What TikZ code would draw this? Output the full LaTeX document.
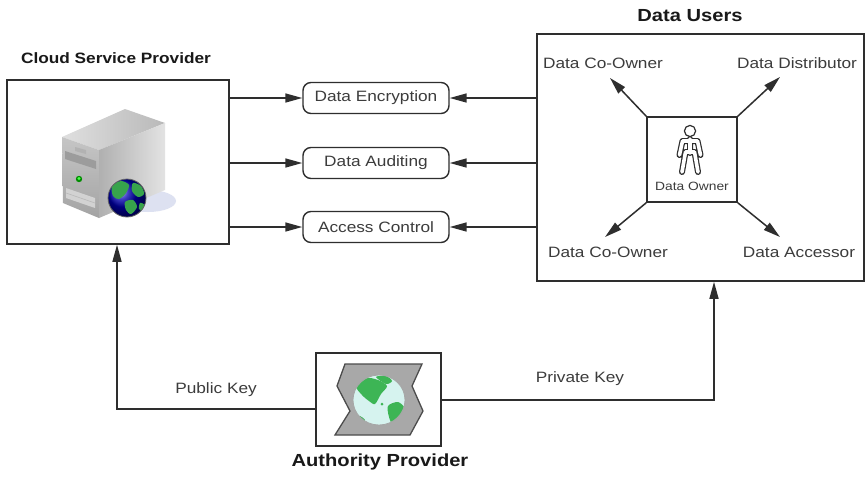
\documentclass[tikz,border=0pt]{standalone}
\usepackage{fontspec}
\setmainfont{Liberation Sans}[FakeStretch=1.15]
\usetikzlibrary{arrows.meta}

\definecolor{ink}{HTML}{2E2E2E}
\definecolor{txt}{HTML}{3C3C3C}
\definecolor{land}{HTML}{3DB555}
\definecolor{sea}{HTML}{D6F3EF}
\definecolor{shadowblue}{HTML}{DDE1F1}
\definecolor{plate}{HTML}{A8A8A8}

\begin{document}
\begin{tikzpicture}[x=1pt,y=-1pt,
  conn/.style={draw=ink, line width=1.5pt},
  arr/.style={conn, -{Triangle[length=17pt,width=9pt]}},
  panel/.style={draw=ink, line width=1.6pt, inner sep=0pt},
  task/.style={draw=ink, line width=1.4pt, rounded corners=8pt,
    minimum width=146pt, minimum height=31pt, inner sep=0pt,
    font=\fontsize{15}{18}\selectfont, text=txt},
  lbl/.style={font=\fontsize{15}{18}\selectfont, text=txt, inner sep=0pt},
  small/.style={font=\fontsize{12}{14}\selectfont, text=txt, inner sep=0pt},
  title/.style={font=\bfseries\fontsize{17.5}{20}\selectfont, text=black!90, inner sep=0pt, anchor=base}]

% canvas
\fill[white] (0,0) rectangle (866,477);
\useasboundingbox (0,0) rectangle (866,477);

% ---------- main frames ----------
\node[panel, minimum width=222pt, minimum height=164pt] (csp) at (118,162) {};
\node[panel, minimum width=327pt, minimum height=247pt] (users) at (700.5,157.5) {};
\node[panel, minimum width=90pt, minimum height=85pt] (owner) at (692,159.5) {};
\node[panel, minimum width=125pt, minimum height=93pt] (auth) at (378.5,399.5) {};

% ---------- titles ----------
\node[title, font=\bfseries\fontsize{15}{18}\selectfont] (csptitle) at (116,63) {Cloud Service Provider};
\node[title] (userstitle) at (690,21) {Data Users};
\node[title] (authtitle) at (380,466) {Authority Provider};

% ---------- services ----------
\node[task] (enc) at (376,98) {Data Encryption};
\node[task] (aud) at (376,163) {Data Auditing};
\node[task] (acc) at (376,227) {Access Control};

\foreach \s in {enc,aud,acc}{
  \draw[arr] (csp.east |- \s) -- (\s.west);
  \draw[arr] (users.west |- \s) -- (\s.east);
}

% ---------- roles around the data owner ----------
\coordinate (tipTL) at (610,78);
\coordinate (tipTR) at (780,77);
\coordinate (tipBL) at (605,237);
\coordinate (tipBR) at (780,237);
\draw[arr] (owner.north west) -- (tipTL);
\draw[arr] (owner.north east) -- (tipTR);
\draw[arr] (owner.south west) -- (tipBL);
\draw[arr] (owner.south east) -- (tipBR);

\node[lbl] (coTop) at (603,63) {Data Co-Owner};
\node[lbl] (dist) at (797,63) {Data Distributor};
\node[lbl] (coBot) at (608,252) {Data Co-Owner};
\node[lbl] (accs) at (799,252) {Data Accessor};

% data owner figure (outlined stick figure)
\def\figurepath{
  (679.5,155) -- (682.5,141) -- (697.5,141) -- (700.5,155)
  (690,139) -- (690,153)
  (682,172) -- (685.5,152) -- (694.5,152) -- (698,172)}
\draw[ink, line width=6pt, line cap=round, line join=round] \figurepath;
\draw[white, line width=3.6pt, line cap=round, line join=round] \figurepath;
\filldraw[fill=white, draw=ink, line width=1.2pt] (690,131) circle (5.6);
\node[small] (ownerlbl) at (692,186) {Data Owner};

% ---------- keys ----------
\coordinate (pubbend) at (117,409);
\coordinate (privbend) at (714,400);
\draw[arr] (auth.west |- pubbend) -- (pubbend) -- (pubbend |- csp.south);
\draw[arr] (auth.east |- privbend) -- (privbend) -- (privbend |- users.south);
\node[lbl, anchor=base] (pub) at (216,393) {Public Key};
\node[lbl, anchor=base] (priv) at (580,382) {Private Key};

% ---------- server icon ----------
\fill[shadowblue] (148,201) ellipse [x radius=28, y radius=11];
\shade[left color=gray!25, right color=gray!55] (62,137) -- (125,109) -- (165,123) -- (99,150) -- cycle;
\shade[top color=gray!45, bottom color=gray!72] (62,137) -- (99,150) -- (99,218) -- (63,203) -- cycle;
\shade[left color=gray!62, right color=gray!22] (99,150) -- (165,123) -- (165,190) -- (99,218) -- cycle;
% drive bay and front details
\fill[gray!78] (65,151) -- (96,161) -- (96,169) -- (65,159) -- cycle;
\fill[gray!60] (75,151) -- (86,154) -- (86,150) -- (75,147) -- cycle;
\fill[green!55!black] (79,179) circle (3.2);
\fill[green!70] (79,178.5) circle (1.6);
\fill[gray!35] (66,188) -- (95,198) -- (95,208) -- (66,198) -- cycle;
\draw[gray!55, line width=0.6pt] (66,193) -- (95,203);
% globe
\shade[ball color=blue!70!black] (127,198) circle (19);
\begin{scope}
  \clip (127,198) circle (19);
  \fill[land!90!black] plot[smooth cycle] coordinates {(112,186) (121,181) (129,185) (126,193) (119,199) (113,196)};
  \fill[land!90!black] plot[smooth cycle] coordinates {(133,183) (141,186) (144,194) (138,197) (132,191)};
  \fill[land!90!black] plot[smooth cycle] coordinates {(125,202) (133,200) (137,207) (131,214) (126,210)};
  \fill[land!90!black] plot[smooth cycle] coordinates {(140,203) (145,205) (143,211) (139,209)};
\end{scope}
\draw[black!60, line width=0.8pt] (127,198) circle (19);

% ---------- authority icon ----------
\filldraw[fill=plate, draw=black!70, line width=1.3pt, line join=miter]
  (345,364) -- (422,364) -- (412,386) -- (423,411) -- (410,435)
  -- (335,435) -- (350,411) -- (337,386) -- cycle;
\fill[sea] (379,400) ellipse [x radius=26, y radius=25];
\begin{scope}
  \clip (379,400) ellipse [x radius=26, y radius=25];
  \fill[land] plot[smooth cycle] coordinates {(356,386) (366,378) (378,380) (387,386) (381,394) (375,404) (369,401) (362,395)};
  \fill[land] plot[smooth cycle] coordinates {(376,377) (386,376) (392,381) (386,384)};
  \fill[land] plot[smooth cycle] coordinates {(388,406) (398,402) (405,409) (400,419) (393,425) (389,417)};
  \fill[land] plot[smooth cycle] coordinates {(359,416) (365,420) (362,426) (357,423)};
  \fill[land] (382,404) circle (1.5);
\end{scope}
\draw[gray!70, line width=0.8pt] (379,400) ellipse [x radius=26, y radius=25];

\end{tikzpicture}
\end{document}
